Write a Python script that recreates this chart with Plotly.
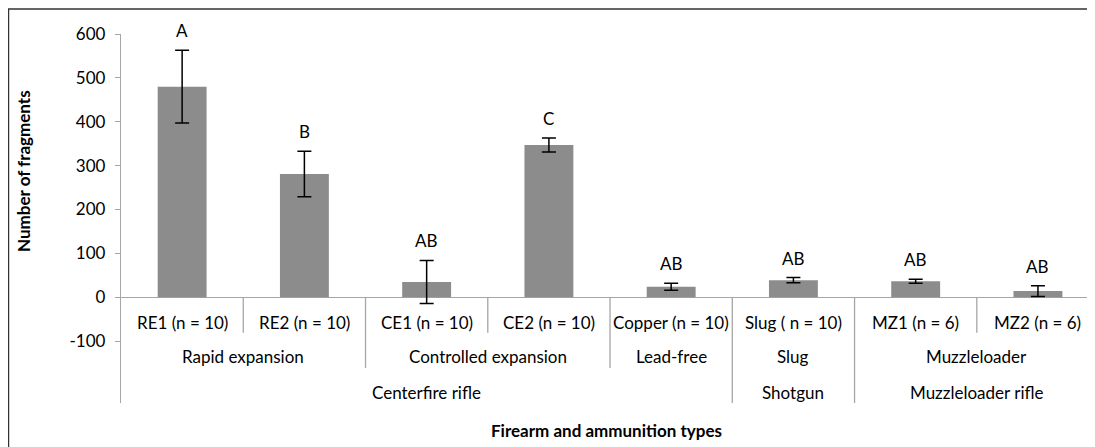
import plotly.graph_objects as go

categories = ["RE1 (n = 10)", "RE2 (n = 10)", "CE1 (n = 10)", "CE2 (n = 10)",
              "Copper (n = 10)", "Slug ( n = 10)", "MZ1 (n = 6)", "MZ2 (n = 6)"]
means = [480, 281, 35, 347, 24, 39, 36.5, 14]
errors = [83, 52, 49, 16, 8, 6, 4.5, 12]
letters = ["A", "B", "AB", "C", "AB", "AB", "AB", "AB"]
# second level groups: (label, first index, last index)
level2 = [("Rapid expansion", 0, 1), ("Controlled expansion", 2, 3),
          ("Lead-free", 4, 4), ("Slug", 5, 5), ("Muzzleloader", 6, 7)]
level3 = [("Centerfire rifle", 0, 4), ("Shotgun", 5, 5), ("Muzzleloader rifle", 6, 7)]
y_ticks = [-100, 0, 100, 200, 300, 400, 500, 600]

FONT = "Lato"
AXC = "#a6a6a6"
FS = 17
x = list(range(len(categories)))

fig = go.Figure()
fig.add_trace(go.Bar(
    x=x, y=means, width=0.4, marker=dict(color="#8c8c8c", line=dict(width=0)),
    error_y=dict(type="data", array=errors, visible=True, color="black",
                 thickness=1.5, width=7),
    hoverinfo="skip"))

Y1, Y2, Y3 = -81, -161, -241
ann = []
shapes = []
for i, c in enumerate(categories):
    ann.append(dict(x=i, y=-58, xref="x", yref="y", text=c, showarrow=False,
                    font=dict(family=FONT, size=FS, color="#000")))
    ann.append(dict(x=i, y=means[i] + errors[i], xref="x", yref="y", text=letters[i],
                    showarrow=False, yanchor="bottom", yshift=7,
                    font=dict(family=FONT, size=FS, color="#000")))
for lab, a, b in level2:
    ann.append(dict(x=(a + b) / 2, y=-136, xref="x", yref="y", text=lab, showarrow=False,
                    font=dict(family=FONT, size=FS, color="#000")))
for lab, a, b in level3:
    ann.append(dict(x=(a + b) / 2, y=-218, xref="x", yref="y", text=lab, showarrow=False,
                    font=dict(family=FONT, size=FS, color="#000")))

# separators
b3 = {b for _, a, b in level3}
b2 = {b for _, a, b in level2}
for i in range(len(categories) - 1):
    bottom = Y3 if i in b3 else (Y2 if i in b2 else Y1)
    shapes.append(dict(type="line", xref="x", yref="y", x0=i + 0.5, x1=i + 0.5,
                       y0=0, y1=bottom, line=dict(color=AXC, width=1.3)))

PW, PH = 969.5, 369
ann.append(dict(x=0.5, y=-27 / PH, xref="paper", yref="paper", text="<b>Firearm and ammunition types</b>",
                xanchor="center", yanchor="middle",
                showarrow=False, font=dict(family=FONT, size=17, color="#000")))
ann.append(dict(x=-98 / PW, y=232 / PH, xref="paper", yref="paper", text="<b>Number of fragments</b>",
                xanchor="center", yanchor="middle",
                textangle=-90, showarrow=False, font=dict(family=FONT, size=17, color="#000")))

# outer border
shapes.append(dict(type="rect", xref="paper", yref="paper",
                   x0=-112.5 / PW, x1=1.0005, y0=(369 + 25) / PH, y1=-0.5,
                   line=dict(color="#333333", width=1.6), fillcolor="rgba(0,0,0,0)", layer="above"))

fig.update_layout(
    width=1087, height=439,
    margin=dict(l=113, r=4, t=26, b=44),
    paper_bgcolor="white", plot_bgcolor="white",
    showlegend=False, bargap=0.6,
    annotations=ann, shapes=shapes,
    xaxis=dict(range=[-0.5, 7.434], showticklabels=False, showgrid=False,
               zeroline=False, showline=False, ticks=""),
    yaxis=dict(range=[-241, 600], tickvals=y_ticks, ticktext=[str(v) for v in y_ticks],
               showgrid=False,
               zeroline=True, zerolinecolor=AXC, zerolinewidth=1.3,
               showline=True, linecolor=AXC, linewidth=1.3,
               ticks="outside", ticklen=5, tickcolor=AXC, tickwidth=1.3,
               ticklabelstandoff=6,
               tickfont=dict(family=FONT, size=FS, color="#000")),
)
fig.write_html("out.html")
